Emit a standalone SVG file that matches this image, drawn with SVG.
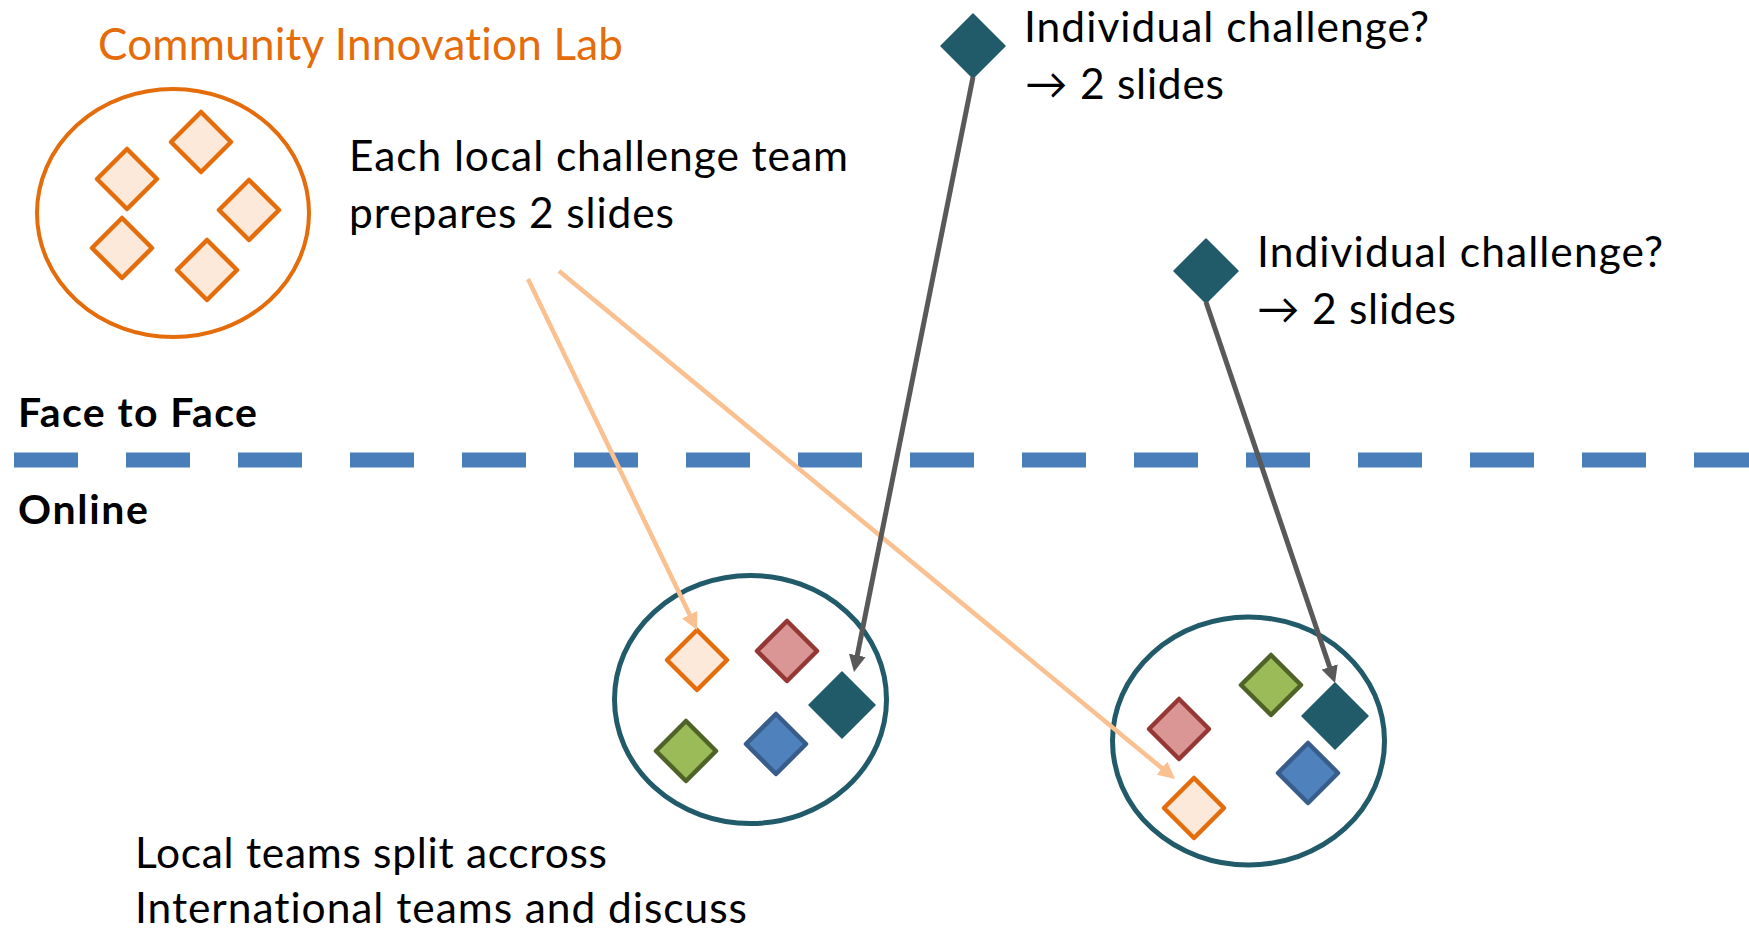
<svg xmlns="http://www.w3.org/2000/svg" width="1749" height="932" viewBox="0 0 1749 932">
<style>
text{font-family:Lato,"Open Sans","Liberation Sans",sans-serif;font-size:42.5px;fill:#000;font-variant-ligatures:none;font-feature-settings:"liga" 0,"dlig" 0}
.title{font-size:44px;fill:#E46C0A}
.bold{font-weight:bold;font-size:41px}
.cl-orange{fill:#FDE9D9;stroke:#E46C0A;stroke-width:4.5;stroke-linejoin:round}
.cl-red{fill:#D99694;stroke:#953735;stroke-width:4.5;stroke-linejoin:round}
.cl-green{fill:#9BBB59;stroke:#4F6228;stroke-width:4.5;stroke-linejoin:round}
.cl-blue{fill:#4F81BD;stroke:#385D8A;stroke-width:4.5;stroke-linejoin:round}
.cl-teal{fill:#215A69;stroke:#215A69;stroke-width:1.5;stroke-linejoin:round}
.ring-orange{fill:none;stroke:#E46C0A;stroke-width:4}
.ring-teal{fill:none;stroke:#215A69;stroke-width:5}
.conn-o{fill:none;stroke:#FAC090;stroke-width:4.5}
.conn-g{fill:none;stroke:#595959;stroke-width:5}
</style>
<defs>
<marker id="ahO" markerUnits="userSpaceOnUse" markerWidth="18" markerHeight="17" viewBox="0 0 18 17" refX="1" refY="8.5" orient="auto"><path d="M0,0 L17,8.5 L0,17 Z" fill="#FAC090"/></marker>
<marker id="ahG" markerUnits="userSpaceOnUse" markerWidth="18" markerHeight="17" viewBox="0 0 18 17" refX="1" refY="8.5" orient="auto"><path d="M0,0 L17,8.5 L0,17 Z" fill="#595959"/></marker>
</defs>
<rect width="1749" height="932" fill="#fff"/>

<g id="divider">
<line x1="14" y1="460" x2="1749" y2="460" stroke="#4A7EBB" stroke-width="15" stroke-dasharray="64 48"/>
<text x="18" y="427" class="bold" textLength="239">Face to Face</text>
<text x="18" y="524" class="bold" textLength="130">Online</text>
</g>

<g id="community-lab">
<text x="98" y="60" class="title" textLength="525">Community Innovation Lab</text>
<ellipse cx="173" cy="213" rx="136" ry="124" class="ring-orange"/>
<polygon class="cl-orange" points="201,112 231,142 201,172 171,142"/>
<polygon class="cl-orange" points="127,149 157,179 127,209 97,179"/>
<polygon class="cl-orange" points="249,180 279,210 249,240 219,210"/>
<polygon class="cl-orange" points="122,218 152,248 122,278 92,248"/>
<polygon class="cl-orange" points="207,240 237,270 207,300 177,270"/>
</g>

<g id="local-note">
<text x="349" y="171" textLength="499">Each local challenge team</text>
<text x="349" y="228" textLength="325">prepares 2 slides</text>
</g>

<g id="individual-1">
<polygon class="cl-teal" points="973,14 1005,46 973,78 941,46"/>
<text x="1024" y="42" textLength="405">Individual challenge?</text>
<text x="1025" y="99" textLength="199">→ 2 slides</text>
</g>

<g id="individual-2">
<polygon class="cl-teal" points="1206,239 1238,271 1206,303 1174,271"/>
<text x="1257" y="267" textLength="406">Individual challenge?</text>
<text x="1257" y="324" textLength="199">→ 2 slides</text>
</g>

<g id="intl-team-1">
<ellipse cx="750.5" cy="699.5" rx="136" ry="124" class="ring-teal"/>
<polygon class="cl-orange" points="697,630 727,660 697,690 667,660"/>
<polygon class="cl-red" points="787,621 817,651 787,681 757,651"/>
<polygon class="cl-teal" points="842,672 875,705 842,738 809,705"/>
<polygon class="cl-green" points="686,721 716,751 686,781 656,751"/>
<polygon class="cl-blue" points="776,714 806,744 776,774 746,744"/>
</g>

<g id="intl-team-2">
<ellipse cx="1248.5" cy="741" rx="136" ry="124" class="ring-teal"/>
<polygon class="cl-green" points="1271,655 1301,685 1271,715 1241,685"/>
<polygon class="cl-teal" points="1335,683 1368,716 1335,749 1302,716"/>
<polygon class="cl-red" points="1179,699 1209,729 1179,759 1149,729"/>
<polygon class="cl-blue" points="1308,743 1338,773 1308,803 1278,773"/>
<polygon class="cl-orange" points="1194,778 1224,808 1194,838 1164,808"/>
</g>

<g id="bottom-note">
<text x="135" y="868" textLength="472">Local teams split accross</text>
<text x="135" y="923" textLength="612">International teams and discuss</text>
</g>

<g id="connectors">
<line class="conn-o" x1="528" y1="279" x2="690.1" y2="615.6" marker-end="url(#ahO)"/>
<line class="conn-o" x1="559" y1="271" x2="1162.7" y2="768.8" marker-end="url(#ahO)"/>
<line class="conn-g" x1="973" y1="77" x2="857.1" y2="656.3" marker-end="url(#ahG)"/>
<line class="conn-g" x1="1206" y1="302" x2="1329.9" y2="667.8" marker-end="url(#ahG)"/>
</g>
</svg>
